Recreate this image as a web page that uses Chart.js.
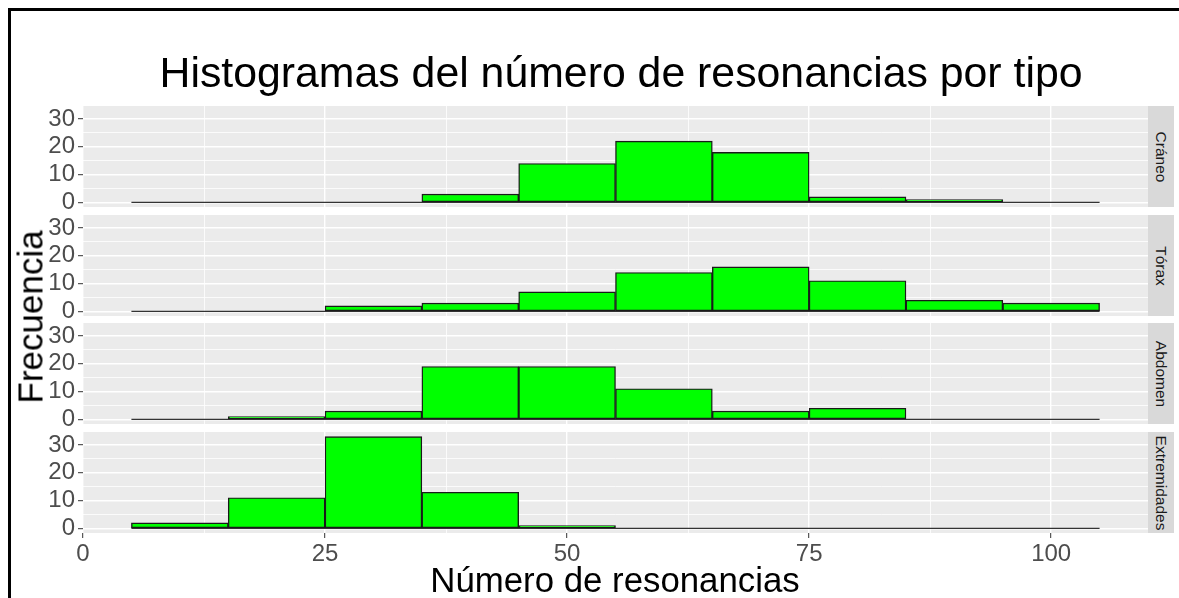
<!DOCTYPE html>
<html>
<head>
<meta charset="utf-8">
<script src="https://cdn.jsdelivr.net/npm/chart.js@4.4.1/dist/chart.umd.min.js"></script>
<style>
  html, body { margin: 0; padding: 0; background: #fff; overflow: hidden; }
  body { width: 1179px; height: 598px; position: relative; font-family: "Liberation Sans", Arial, sans-serif; }
  .frame { position: absolute; left: 8px; top: 8px; width: 1200px; height: 700px; border: 3px solid #000; box-sizing: border-box; }
  .panel { position: absolute; left: 0; }
  .txt { position: absolute; white-space: nowrap; line-height: 1; }
  .title { font-size: 42.8px; color: #000; left: 621px; top: 51px; transform: translateX(-50%); }
  .xtitle { font-size: 34.8px; color: #000; left: 615px; top: 563px; transform: translateX(-50%); }
  .ytitle { font-size: 35px; color: #000; left: 30px; top: 317px; transform: translate(-50%, -50%) rotate(-90deg); }
  .strip { position: absolute; left: 1148px; width: 26px; background: #D9D9D9; }
  .strip span { position: absolute; left: 50%; top: 50%; white-space: nowrap; line-height: 1; font-size: 15.5px; color: #1A1A1A; transform: translate(-50%, -50%) rotate(90deg); }
</style>
</head>
<body>
<div class="frame"></div>
<div id="plot"></div>
<div class="txt title">Histogramas del número de resonancias por tipo</div>
<div class="txt xtitle">Número de resonancias</div>
<div class="txt ytitle">Frecuencia</div>

<script>
// Histogram bins (centres, width 10)
const binCenters = [10, 20, 30, 40, 50, 60, 70, 80, 90, 100];
const binWidth = 10;

// Counts per facet
const facetLabels = ['Cráneo', 'Tórax', 'Abdomen', 'Extremidades'];
const craneo = [0, 0, 0, 3, 14, 22, 18, 2, 1, 0];
const torax = [0, 0, 2, 3, 7, 14, 16, 11, 4, 3];
const abdomen = [0, 1, 3, 19, 19, 11, 3, 4, 0, 0];
const extremidades = [2, 11, 33, 13, 1, 0, 0, 0, 0, 0];

// Axis breaks
const xMajor = [0, 25, 50, 75, 100];
const xMinor = [12.5, 37.5, 62.5, 87.5];
const yMajor = [0, 10, 20, 30];
const yMinor = [5, 15, 25];

const facetCounts = [craneo, torax, abdomen, extremidades];

// ggplot-like 5% expansion
const maxCount = Math.max(...facetCounts.flat());
const yMin = -0.05 * maxCount;
const yMax = maxCount * 1.05;
const xLo = binCenters[0] - binWidth / 2;
const xHi = binCenters[binCenters.length - 1] + binWidth / 2;
const xMin = xLo - 0.05 * (xHi - xLo);
const xMax = xHi + 0.05 * (xHi - xLo);

// Layout
const PANEL_TOP = 106, PANEL_PITCH = 108.67, PANEL_H = 101;
const PANEL_LEFT = 83, PANEL_RIGHT = 1148;
const PAD = 16, X_AXIS_H = 40;
const FONT = '"Liberation Sans", Arial, sans-serif';

const panelBg = {
    id: 'panelBg',
    beforeDraw(chart) {
        const { ctx, chartArea: a } = chart;
        ctx.save();
        ctx.fillStyle = '#EBEBEB';
        ctx.fillRect(a.left, a.top, a.right - a.left, a.bottom - a.top);
        ctx.restore();
    }
};

const isMajor = (list, v) => list.includes(v);

const plot = document.getElementById('plot');

facetCounts.forEach(function(values, i) {
    const last = i === facetCounts.length - 1;
    const top = Math.round(PANEL_TOP + i * PANEL_PITCH);

    const wrap = document.createElement('div');
    wrap.className = 'panel';
    wrap.style.top = (top - PAD) + 'px';
    const canvas = document.createElement('canvas');
    canvas.width = PANEL_RIGHT;
    canvas.height = PAD + PANEL_H + (last ? X_AXIS_H : PAD);
    wrap.appendChild(canvas);
    plot.appendChild(wrap);

    const strip = document.createElement('div');
    strip.className = 'strip';
    strip.style.top = top + 'px';
    strip.style.height = PANEL_H + 'px';
    const label = document.createElement('span');
    label.textContent = facetLabels[i];
    strip.appendChild(label);
    document.body.appendChild(strip);

    new Chart(canvas.getContext('2d'), {
        type: 'bar',
        data: {
            datasets: [
                {
                    type: 'bar',
                    data: binCenters.map((c, k) => ({ x: c, y: values[k] })),
                    backgroundColor: '#00FF00',
                    borderColor: '#1A1A1A',
                    borderWidth: 1.4,
                    borderSkipped: false,
                    barPercentage: 1,
                    categoryPercentage: 1,
                    order: 1
                },
                {
                    type: 'line',
                    data: [{ x: xLo, y: 0 }, { x: xHi, y: 0 }],
                    borderColor: '#333333',
                    borderWidth: 1.3,
                    pointRadius: 0,
                    order: 2
                }
            ]
        },
        options: {
            responsive: false,
            animation: false,
            events: [],
            layout: { padding: { top: PAD, bottom: last ? 0 : PAD, left: 0, right: 0 } },
            plugins: { legend: { display: false }, tooltip: { enabled: false } },
            scales: {
                x: {
                    type: 'linear',
                    min: xMin,
                    max: xMax,
                    offset: false,
                    afterBuildTicks: s => { s.ticks = [...xMajor, ...xMinor].sort((a, b) => a - b).map(v => ({ value: v })); },
                    afterFit: s => { s.height = last ? X_AXIS_H : 0; s.paddingLeft = 0; s.paddingRight = 0; },
                    border: { display: false },
                    grid: {
                        offset: false,
                        color: '#FFFFFF',
                        lineWidth: c => (c.tick && isMajor(xMajor, c.tick.value)) ? 1.4 : 0.8,
                        drawTicks: last,
                        tickLength: 5,
                        tickWidth: 1,
                        tickColor: c => (c.tick && isMajor(xMajor, c.tick.value)) ? '#333333' : 'rgba(0,0,0,0)'
                    },
                    ticks: {
                        display: last,
                        autoSkip: false,
                        maxRotation: 0,
                        padding: 2,
                        color: '#4D4D4D',
                        font: { family: FONT, size: 24 },
                        callback: v => isMajor(xMajor, v) ? String(v) : ''
                    }
                },
                y: {
                    min: yMin,
                    max: yMax,
                    afterBuildTicks: s => { s.ticks = [...yMajor, ...yMinor].sort((a, b) => a - b).map(v => ({ value: v })); },
                    afterFit: s => { s.width = PANEL_LEFT; s.paddingTop = 0; s.paddingBottom = 0; },
                    border: { display: false },
                    grid: {
                        color: '#FFFFFF',
                        lineWidth: c => (c.tick && isMajor(yMajor, c.tick.value)) ? 1.4 : 0.8,
                        tickLength: 5,
                        tickWidth: 1,
                        tickColor: c => (c.tick && isMajor(yMajor, c.tick.value)) ? '#333333' : 'rgba(0,0,0,0)'
                    },
                    ticks: {
                        autoSkip: false,
                        padding: 3,
                        color: '#4D4D4D',
                        font: { family: FONT, size: 24 },
                        callback: v => isMajor(yMajor, v) ? String(v) : ''
                    }
                }
            }
        },
        plugins: [panelBg]
    });
});
</script>
</body>
</html>
